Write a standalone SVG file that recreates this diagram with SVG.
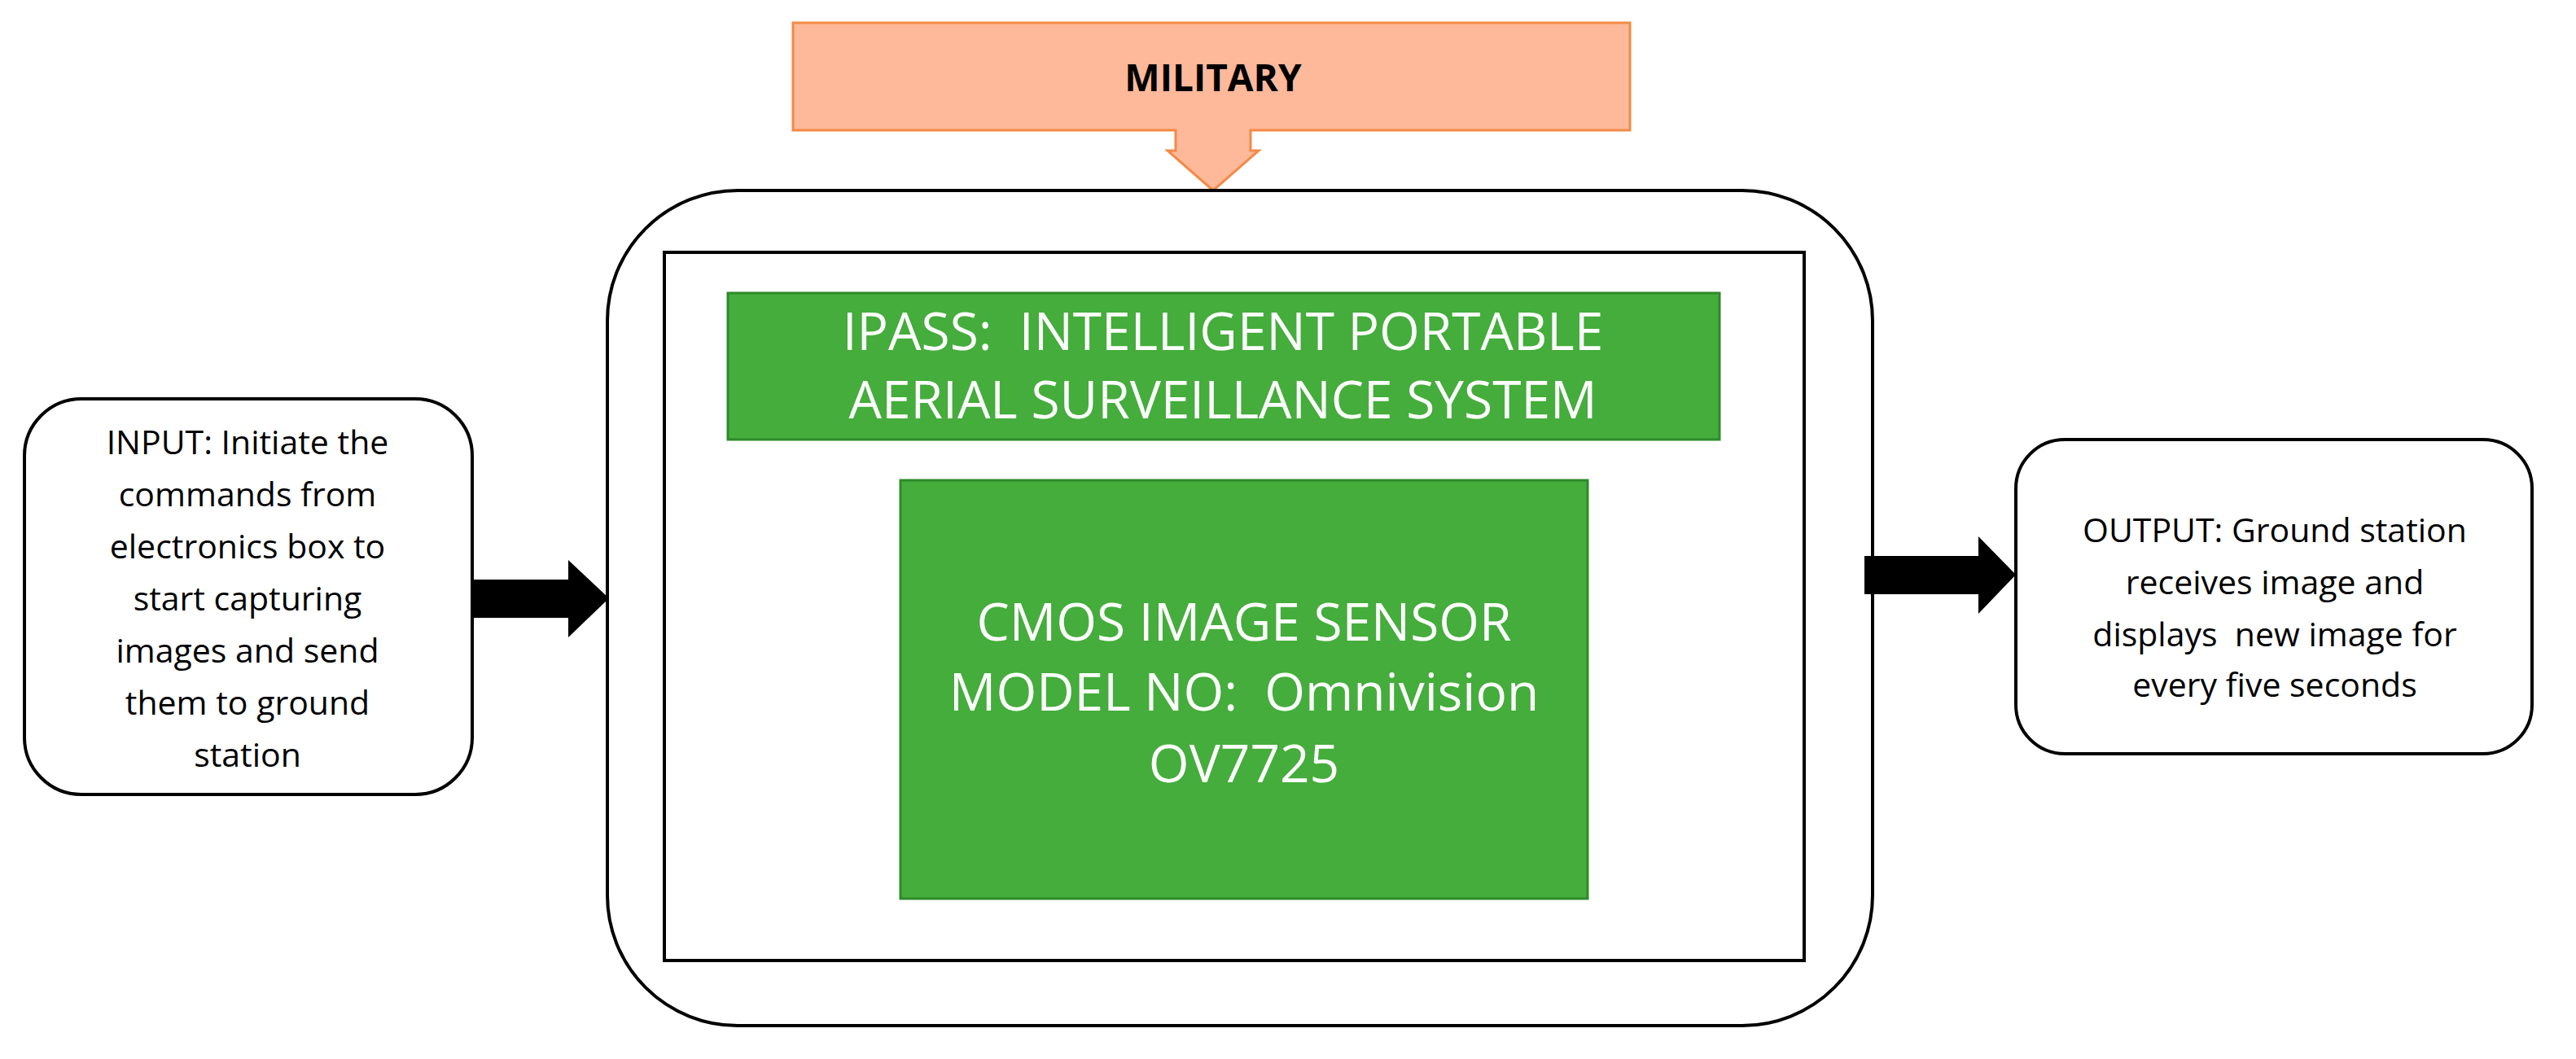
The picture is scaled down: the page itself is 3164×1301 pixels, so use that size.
<svg xmlns="http://www.w3.org/2000/svg" width="3164" height="1301" viewBox="0 0 3164 1301">
<style>
.box{fill:#fff;stroke:#000;stroke-width:4}
.green{fill:#44AD3B;stroke:#2E8A2A;stroke-width:3}
.t{font-family:"Open Sans","Liberation Sans",sans-serif;text-anchor:middle;white-space:pre}
.blk{font-size:41px;fill:#000}
.wht{font-size:64px;fill:#fff}
</style>
<rect width="3164" height="1301" fill="#fff"/>
<g id="military">
<path d="M974 28 H2002 V160 H1536 V185 H1546 L1490 234 L1434 185 H1444 V160 H974 Z" fill="#FDB99A" stroke="#F48A46" stroke-width="3"/>
<text class="t" x="1490" y="112" font-size="46" font-weight="bold" fill="#000">MILITARY</text>
</g>
<g id="system">
<rect class="box" x="746" y="234" width="1554" height="1026" rx="160"/>
<rect class="box" x="816" y="310" width="1400" height="870"/>
</g>
<g id="ipass">
<rect class="green" x="894" y="360" width="1218" height="180"/>
<text class="t wht" x="1502" y="430" xml:space="preserve">IPASS:  INTELLIGENT PORTABLE</text>
<text class="t wht" x="1502" y="514">AERIAL SURVEILLANCE SYSTEM</text>
</g>
<g id="cmos">
<rect class="green" x="1106" y="590" width="844" height="514"/>
<text class="t wht" x="1528" y="787">CMOS IMAGE SENSOR</text>
<text class="t wht" x="1528" y="873" xml:space="preserve">MODEL NO:  Omnivision</text>
<text class="t wht" x="1528" y="961">OV7725</text>
</g>
<g id="input">
<rect class="box" x="30" y="490" width="550" height="486" rx="70"/>
<g class="t blk">
<text x="304" y="558">INPUT: Initiate the</text>
<text x="304" y="622">commands from</text>
<text x="304" y="686">electronics box to</text>
<text x="304" y="750">start capturing</text>
<text x="304" y="814">images and send</text>
<text x="304" y="878">them to ground</text>
<text x="304" y="942">station</text>
</g>
</g>
<g id="output">
<rect class="box" x="2476" y="540" width="634" height="386" rx="60"/>
<g class="t blk">
<text x="2794" y="666">OUTPUT: Ground station</text>
<text x="2794" y="730">receives image and</text>
<text x="2794" y="794" xml:space="preserve">displays  new image for</text>
<text x="2794" y="856">every five seconds</text>
</g>
</g>
<g id="connectors" fill="#000">
<path d="M582 712 H698 V688 L748 735 L698 783 V759 H582 Z"/>
<path d="M2290 683 H2430 V659 L2476 706 L2430 754 V730 H2290 Z"/>
</g>
</svg>
